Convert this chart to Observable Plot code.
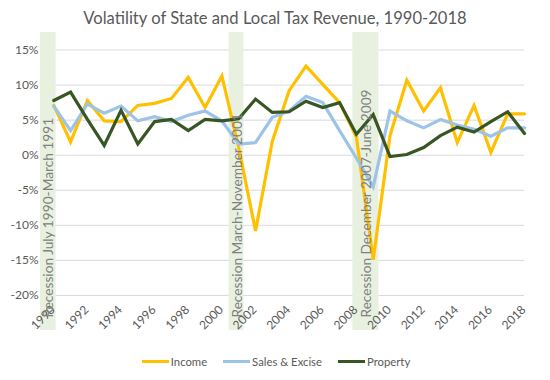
<!DOCTYPE html>
<html>
<head>
<meta charset="utf-8">
<script src="https://cdn.jsdelivr.net/npm/d3@7"></script>
<script src="https://cdn.jsdelivr.net/npm/@observablehq/plot@0.6"></script>
<style>
  html, body { margin: 0; padding: 0; background: #fff; }
  body { width: 550px; height: 380px; overflow: hidden; font-family: Lato, "Open Sans", sans-serif; }
  #title { height: 30px; line-height: 36px; text-align: center; font-size: 16.6px; color: #595959; }
  #legend { height: 18px; display: flex; justify-content: center; align-items: center; font-size: 11.3px; color: #595959; gap: 16px; margin-left: 2px; }
  .item { display: flex; align-items: center; }
  .sw { width: 27px; height: 3px; margin-right: 2px; }
</style>
</head>
<body>
<div id="title">Volatility of State and Local Tax Revenue, 1990-2018</div>
<div id="chart"></div>
<div id="legend"></div>
<script>
const years = d3.range(1990, 2019);
const seriesNames = ["Income", "Sales & Excise", "Property"];
const seriesColors = ["#FFC000", "#9DC3E6", "#375623"];

const income = [7.1, 1.9, 7.8, 4.9, 4.8, 7.1, 7.4, 8.1, 11.1, 6.8,
                11.3, 1.1, -10.8, 2.0, 9.2, 12.7, 10.1, 7.5, 2.6, -14.9,
                2.8, 10.7, 6.3, 9.6, 1.8, 7.1, 0.4, 5.9, 5.9];
const salesExcise = [7.0, 3.5, 7.3, 6.0, 7.0, 4.9, 5.5, 4.8, 5.7, 6.3,
                     4.9, 1.6, 1.8, 5.4, 6.3, 8.4, 7.5, 3.5, -0.4, -4.5,
                     6.3, 4.9, 3.9, 5.1, 4.3, 3.7, 2.7, 3.9, 3.9];
const property = [7.8, 9.0, 5.1, 1.4, 6.4, 1.6, 4.8, 5.1, 3.5, 5.1,
                  4.9, 5.2, 8.0, 6.1, 6.2, 7.7, 6.8, 7.5, 3.0, 5.8,
                  -0.2, 0.1, 1.1, 2.8, 4.0, 3.3, 4.8, 6.2, 3.1];

const recessionLabels = ["Recession July 1990-March 1991", "Recession March-November 2001", "Recession December 2007-June 2009"];
const recessionStart = [1989.21, 2000.43, 2007.79];
const recessionEnd = [1990.14, 2001.31, 2009.34];

const yTicks = [-20, -15, -10, -5, 0, 5, 10, 15];
const xTicks = [1990, 1992, 1994, 1996, 1998, 2000, 2002, 2004, 2006, 2008, 2010, 2012, 2014, 2016, 2018];

const seriesValues = [income, salesExcise, property];
const data = [];
seriesNames.forEach((s, k) => years.forEach((y, i) => data.push({series: s, year: y, value: seriesValues[k][i]})));
const recessions = recessionLabels.map((label, i) => ({label, start: recessionStart[i], end: recessionEnd[i]}));

const chart = Plot.plot({
  width: 550,
  height: 322,
  marginLeft: 40,
  marginRight: 26,
  marginTop: 2,
  marginBottom: 22,
  style: {fontFamily: "Lato, 'Open Sans', sans-serif", background: "#fff"},
  x: {type: "linear", domain: [1989.21, 2018], axis: null},
  y: {domain: [-25, 17.5], axis: null},
  color: {domain: seriesNames, range: seriesColors},
  marks: [
    Plot.ruleY(yTicks, {y: d => d, stroke: "#d9d9d9", strokeWidth: 1}),
    Plot.rect(recessions, {x1: "start", x2: "end", fill: "#e8f1e0"}),
    Plot.line(data, {x: "year", y: "value", z: "series", stroke: "series", strokeWidth: 3.2, strokeLinejoin: "miter", strokeMiterlimit: 4}),
    Plot.text(yTicks, {y: d => d, text: d => d + "%", frameAnchor: "left", dx: -2, textAnchor: "end", fontSize: 12, fill: "#595959"}),
    Plot.text(xTicks, {x: d => d, text: d => String(d), frameAnchor: "bottom", dy: -20, dx: 2, rotate: -45, textAnchor: "end", fontSize: 12, fill: "#595959"}),
    Plot.text(recessions, {x: d => (d.start + d.end) / 2, text: "label", frameAnchor: "bottom", dy: -13, dx: 5, rotate: -90, textAnchor: "start", fontSize: 13.7, fill: "#808080"})
  ]
});
document.getElementById("chart").appendChild(chart);

const legend = document.getElementById("legend");
seriesNames.forEach((s, i) => {
  const item = document.createElement("div");
  item.className = "item";
  const sw = document.createElement("span");
  sw.className = "sw";
  sw.style.background = seriesColors[i];
  const t = document.createElement("span");
  t.textContent = s;
  item.appendChild(sw);
  item.appendChild(t);
  legend.appendChild(item);
});
</script>
</body>
</html>
